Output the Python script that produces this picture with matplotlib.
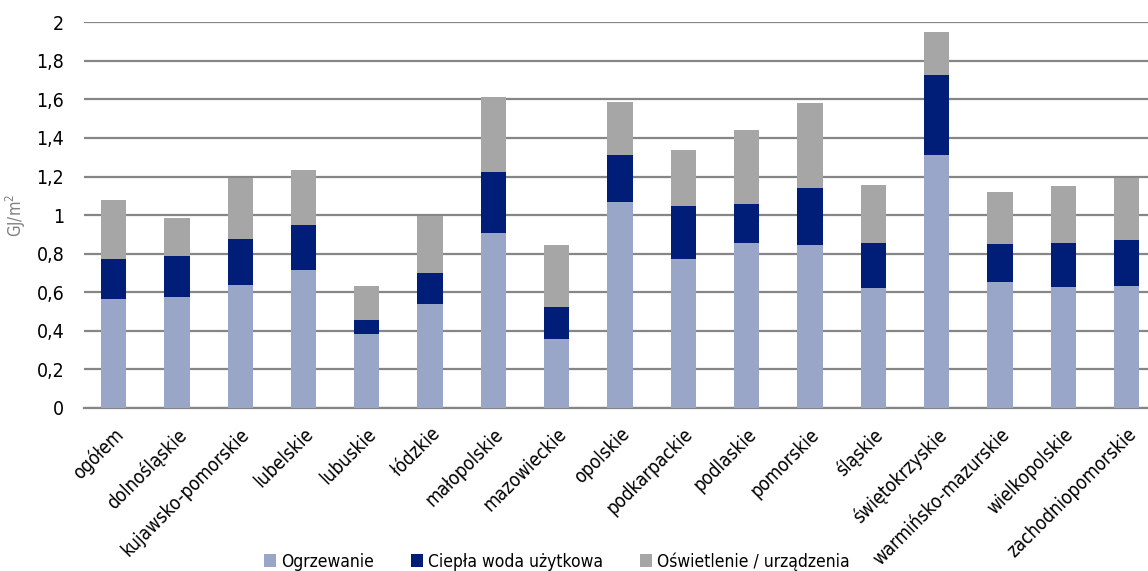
import matplotlib
matplotlib.use("Agg")
import matplotlib.pyplot as plt
import numpy as np

plt.rcParams['font.family'] = ['DejaVu Sans']
plt.rcParams['font.stretch'] = 'condensed'

regiony = ['ogółem', 'dolnośląskie', 'kujawsko-pomorskie', 'lubelskie', 'lubuskie',
           'łódzkie', 'małopolskie', 'mazowieckie', 'opolskie', 'podkarpackie',
           'podlaskie', 'pomorskie', 'śląskie', 'świętokrzyskie',
           'warmińsko-mazurskie', 'wielkopolskie', 'zachodniopomorskie']

ogrzewanie = [0.565, 0.573, 0.639, 0.718, 0.382, 0.537, 0.905, 0.356, 1.067,
              0.772, 0.855, 0.846, 0.622, 1.313, 0.651, 0.625, 0.630]
cwu = [0.207, 0.215, 0.235, 0.230, 0.074, 0.164, 0.320, 0.166, 0.244,
       0.275, 0.205, 0.294, 0.236, 0.412, 0.199, 0.230, 0.240]
oswietlenie = [0.306, 0.195, 0.321, 0.285, 0.174, 0.294, 0.385, 0.324, 0.273,
               0.293, 0.380, 0.440, 0.297, 0.227, 0.269, 0.295, 0.325]

nazwy = ['Ogrzewanie', 'Ciepła woda użytkowa', 'Oświetlenie / urządzenia']
kolory = ['#99a6c8', '#001e78', '#a6a6a6']

x = np.arange(len(regiony))
ogrz = np.array(ogrzewanie)
woda = np.array(cwu)
osw = np.array(oswietlenie)

fig = plt.figure(figsize=(11.48, 5.71), dpi=100)
ax = fig.add_axes([0.073, 0.2855, 0.927, 0.6755])

w = 0.4
ax.bar(x, ogrz, w, color=kolory[0], label=nazwy[0], zorder=3)
ax.bar(x, woda, w, bottom=ogrz, color=kolory[1], label=nazwy[1], zorder=3)
ax.bar(x, osw, w, bottom=ogrz + woda, color=kolory[2], label=nazwy[2], zorder=3)

ax.set_ylim(0, 2)
ax.set_xlim(-0.47, 16.34)
yt = np.arange(0, 2.01, 0.2)
ax.set_yticks(yt)
ax.set_yticklabels([('%.1f' % v).rstrip('0').rstrip('.').replace('.', ',') for v in yt], fontsize=14)
ax.yaxis.grid(True, color='#868686', linewidth=1.6, zorder=0)
ax.tick_params(axis='y', length=0, pad=14)
ax.tick_params(axis='x', length=0, pad=12)
ax.set_xticks(x)
ax.set_xticklabels(regiony, rotation=45, ha='right', rotation_mode='anchor', fontsize=13.5)

for s in ['top', 'right', 'left']:
    ax.spines[s].set_visible(False)
ax.spines['bottom'].set_color('#868686')
ax.spines['bottom'].set_linewidth(1.6)

ax.set_ylabel('GJ/m$^2$', color='#808080', fontsize=12, labelpad=6)

fig.legend(loc='center', bbox_to_anchor=(0.485, 0.017), ncol=3, frameon=False,
           fontsize=12.5, handlelength=0.7, handleheight=0.7, handletextpad=0.3,
           columnspacing=2.1)

fig.savefig('out.png', dpi=100)
